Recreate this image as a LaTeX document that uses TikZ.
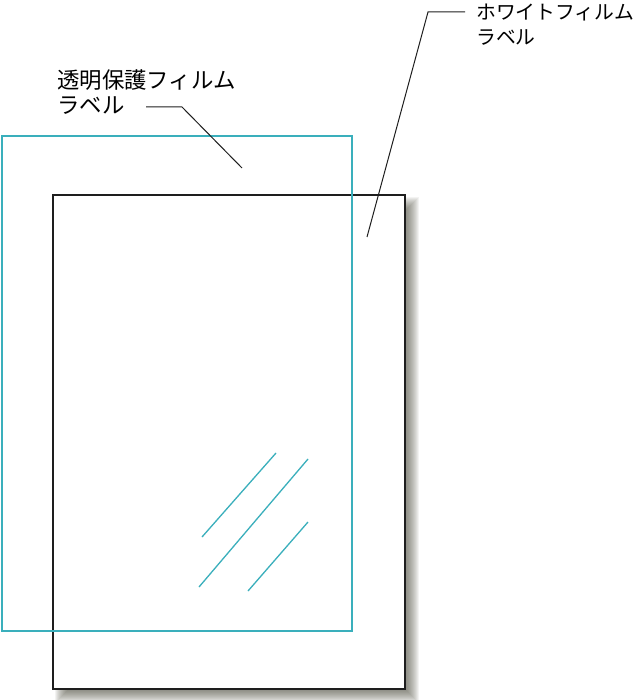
\documentclass[tikz,border=0pt]{standalone}
\usepackage{fontspec}
\newfontfamily\jp{Noto Sans CJK JP}
\definecolor{film}{RGB}{58,175,188}
\definecolor{shadowc}{RGB}{70,70,55}
\definecolor{edge}{RGB}{30,30,30}
\begin{document}
\begin{tikzpicture}[x=1pt,y=-1pt,
  lblL/.style={inner sep=0pt, anchor=base west, font=\jp\fontsize{22.4}{25}\selectfont},
  lblR/.style={inner sep=0pt, anchor=base west, font=\jp\fontsize{19.8}{25}\selectfont},
  leader/.style={draw=edge, line width=1pt},
  glare/.style={draw=film, line width=1.3pt},
  white label/.style={draw=edge, line width=1.5pt, fill=white},
  clear film/.style={draw=film, line width=1.2pt},
  shadow layer/.style={fill=shadowc, fill opacity=0.065}]
\useasboundingbox (0,0) rectangle (634,700);
% soft shadow of the white label
\foreach \r in {-6,-5,...,6}{
  \fill[shadow layer] (61-\r,203-\r) rectangle (413+\r,697+\r);
}
% white film label
\draw[white label] (53,195) rectangle (405,689);
% transparent film label
\draw[clear film] (2,136) rectangle (352,631);
% glare
\coordinate (g1a) at (202,537); \coordinate (g1b) at (276,453);
\coordinate (g2a) at (199,587); \coordinate (g2b) at (308,459);
\coordinate (g3a) at (248,591); \coordinate (g3b) at (308,522);
\draw[glare] (g1a) -- (g1b);
\draw[glare] (g2a) -- (g2b);
\draw[glare] (g3a) -- (g3b);
% labels
\node[lblL] (t1a) at (57,88.5) {透明保護フィルム};
\node[lblL] (t1b) at (57,113.5) {ラベル};
\node[lblR] (t2a) at (476,20) {ホワイトフィルム};
\node[lblR] (t2b) at (476,45) {ラベル};
% leaders
\coordinate (l1s) at (146,107); \coordinate (l1k) at (182,107); \coordinate (l1e) at (242,168);
\draw[leader] (l1s) -- (l1k) -- (l1e);
\coordinate (l2s) at (465,12); \coordinate (l2k) at (428,12); \coordinate (l2e) at (367,237);
\draw[leader] (l2s) -- (l2k) -- (l2e);
\end{tikzpicture}
\end{document}
